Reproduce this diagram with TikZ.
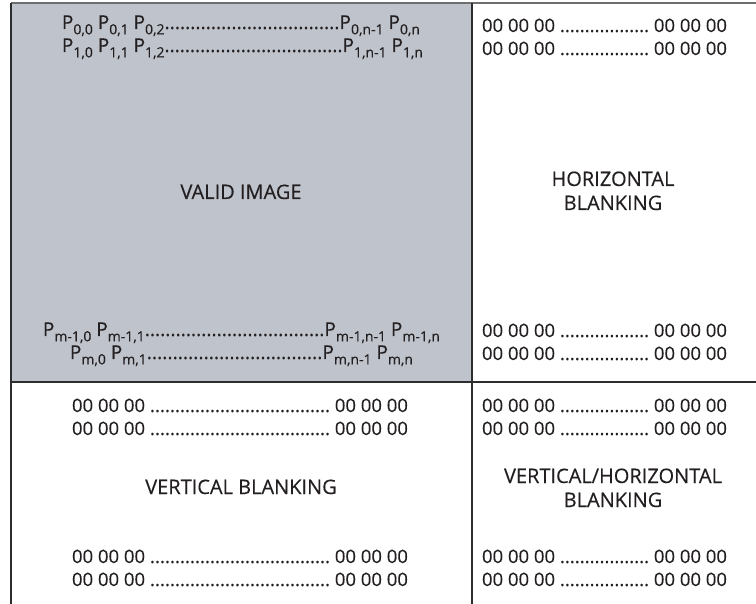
\documentclass[tikz,border=0pt]{standalone}
\usepackage{fontspec}
\setmainfont{Open Sans}[FakeBold=0.35,UprightFont=*,BoldFont=*]
\newcommand\lead{\xleaders\hbox{.}\hfill}
\newcommand\sbs[1]{\raisebox{-0.28em}{\fontsize{14}{14}\selectfont #1}}
\definecolor{validgray}{RGB}{191,196,204}
\definecolor{inktext}{RGB}{35,31,32}
\definecolor{topline}{RGB}{110,110,110}
\definecolor{frameline}{RGB}{45,45,45}
\begin{document}
\begin{tikzpicture}[x=1pt,y=-1pt,
  txt/.style={inner sep=0pt,outer sep=0pt,font=\fontsize{18.5}{22}\selectfont\bfseries,text=inktext},
  lbl/.style={inner sep=0pt,outer sep=0pt,font=\fontsize{20}{22}\selectfont\bfseries,text=inktext},
  ptxt/.style={inner sep=0pt,outer sep=0pt,font=\fontsize{19}{22}\selectfont\bfseries,text=inktext},
  rule/.style={line width=1.3pt,draw=frameline}]
\useasboundingbox (0,0) rectangle (756,604);
\fill[validgray] (11,3) rectangle (472,382);
% frame lines
\coordinate (tl) at (11,3);
\coordinate (tr) at (756,3);
\coordinate (bl) at (11,604);
\coordinate (mt) at (472,3);
\coordinate (mb) at (472,604);
\coordinate (hl) at (11,382);
\coordinate (hr) at (756,382);
\draw[line width=1.6pt,draw=topline] (tl) -- (tr);
\draw[rule] (tl) -- (bl);
\draw[rule] (mt) -- (mb);
\draw[rule] (hl) -- (hr);
% valid image pixel rows
\node[ptxt,anchor=base west] (p0) at (62,29) {\hbox to 358pt{P\sbs{0,0} P\sbs{0,1} P\sbs{0,2}\lead P\sbs{0,n-1} P\sbs{0,n}}};
\node[ptxt,anchor=base west] (p1) at (62,52) {\hbox to 361pt{P\sbs{1,0} P\sbs{1,1} P\sbs{1,2}\lead P\sbs{1,n-1} P\sbs{1,n}}};
\node[ptxt,anchor=base west] (pm1) at (43,336) {\hbox to 397pt{P\sbs{m-1,0} P\sbs{m-1,1}\lead P\sbs{m-1,n-1} P\sbs{m-1,n}}};
\node[ptxt,anchor=base west] (pm) at (70,359) {\hbox to 343pt{P\sbs{m,0} P\sbs{m,1}\lead P\sbs{m,n-1} P\sbs{m,n}}};
\node[lbl,anchor=base] (valid) at (241,199) {VALID IMAGE};
% horizontal blanking
\node[txt,anchor=base west] (h1) at (482,32) {\hbox to 245pt{00 00 00 \lead{} 00 00 00}};
\node[txt,anchor=base west] (h2) at (482,55) {\hbox to 245pt{00 00 00 \lead{} 00 00 00}};
\node[lbl,anchor=base] (hb1) at (613,186) {HORIZONTAL};
\node[lbl,anchor=base] (hb2) at (613,210) {BLANKING};
\node[txt,anchor=base west] (h3) at (482,337) {\hbox to 245pt{00 00 00 \lead{} 00 00 00}};
\node[txt,anchor=base west] (h4) at (482,360) {\hbox to 245pt{00 00 00 \lead{} 00 00 00}};
% vertical blanking
\node[txt,anchor=base west] (v1) at (72,412) {\hbox to 336pt{00 00 00 \lead{} 00 00 00}};
\node[txt,anchor=base west] (v2) at (72,435) {\hbox to 336pt{00 00 00 \lead{} 00 00 00}};
\node[lbl,anchor=base] (vb) at (241,494) {VERTICAL BLANKING};
\node[txt,anchor=base west] (v3) at (72,563) {\hbox to 336pt{00 00 00 \lead{} 00 00 00}};
\node[txt,anchor=base west] (v4) at (72,586) {\hbox to 336pt{00 00 00 \lead{} 00 00 00}};
% vertical/horizontal blanking
\node[txt,anchor=base west] (vh1) at (482,412) {\hbox to 245pt{00 00 00 \lead{} 00 00 00}};
\node[txt,anchor=base west] (vh2) at (482,435) {\hbox to 245pt{00 00 00 \lead{} 00 00 00}};
\node[lbl,anchor=base] (vhb1) at (613,483) {VERTICAL/HORIZONTAL};
\node[lbl,anchor=base] (vhb2) at (613,507) {BLANKING};
\node[txt,anchor=base west] (vh3) at (482,563) {\hbox to 245pt{00 00 00 \lead{} 00 00 00}};
\node[txt,anchor=base west] (vh4) at (482,586) {\hbox to 245pt{00 00 00 \lead{} 00 00 00}};
\end{tikzpicture}
\end{document}
